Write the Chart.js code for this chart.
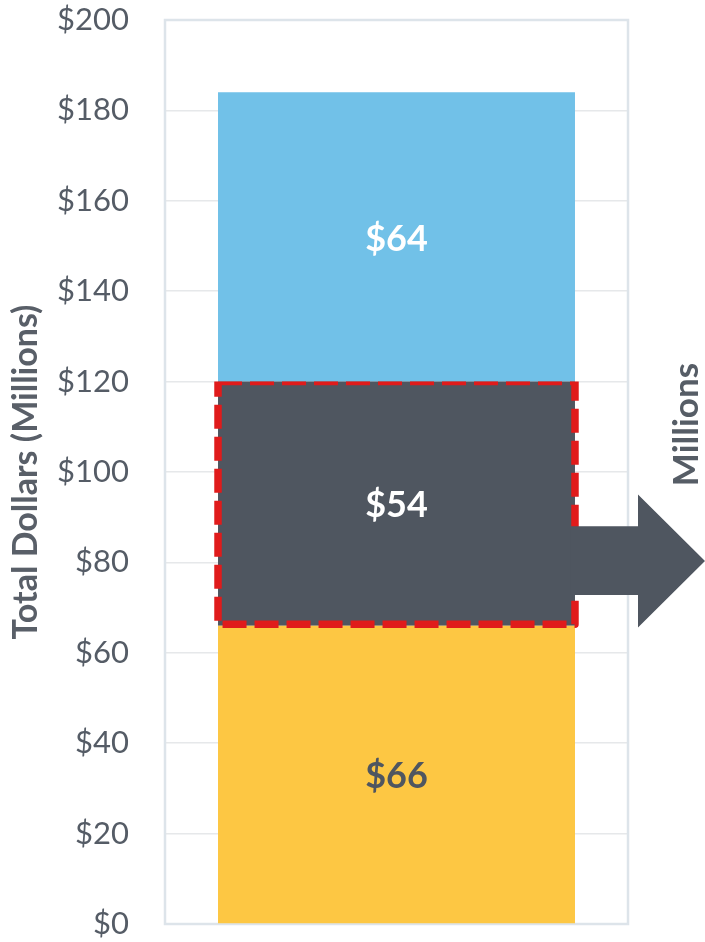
<!DOCTYPE html>
<html>
<head>
<meta charset="utf-8">
<script src="https://cdn.jsdelivr.net/npm/chart.js@4/dist/chart.umd.min.js"></script>
<style>
  html, body { margin: 0; padding: 0; background: #ffffff; }
  #wrap { width: 705px; height: 942px; }
</style>
</head>
<body>
<div id="wrap"><canvas id="c" width="705" height="942"></canvas></div>
<script>
// Single stacked column: three funding segments (millions of dollars)
const categories = [''];
const segmentNames = ['Base', 'Highlighted', 'Upper'];
const baseValues = [66];
const highlightedValues = [54];
const upperValues = [64];
const yMin = 0, yMax = 200, yStep = 20;

const colors = {
  base: '#fdc743',
  highlighted: '#4f5660',
  upper: '#71c1e8',
  text: '#555c66',
  grid: '#e6e8ea',
  frame: '#dde4ea',
  dash: '#e01b1b'
};
const fontFamily = 'Lato, "Open Sans", sans-serif';

// Light frame around the plotting area
const framePlugin = {
  id: 'frame',
  beforeDatasetsDraw(chart) {
    const { ctx, chartArea: a } = chart;
    ctx.save();
    ctx.strokeStyle = colors.frame;
    ctx.lineWidth = 2.5;
    ctx.strokeRect(a.left, a.top, a.right - a.left, a.bottom - a.top);
    ctx.restore();
  }
};

// Dashed outline around the highlighted segment plus the outgoing arrow
const highlightPlugin = {
  id: 'highlight',
  afterDatasetsDraw(chart) {
    const { ctx, chartArea: a } = chart;
    const y = chart.scales.y;
    const bar = chart.getDatasetMeta(1).data[0];
    const half = bar.width / 2;
    const left = bar.x - half, right = bar.x + half;
    const lowVal = baseValues[0];
    const highVal = baseValues[0] + highlightedValues[0];
    const yTop = y.getPixelForValue(highVal);
    const yBot = y.getPixelForValue(lowVal);

    ctx.save();
    ctx.beginPath();
    ctx.rect(0, yTop, chart.width, chart.height);
    ctx.clip();
    ctx.strokeStyle = colors.dash;
    ctx.lineWidth = 7.5;
    ctx.setLineDash([24, 8]);
    ctx.lineJoin = 'round';
    ctx.strokeRect(left, yTop, right - left, yBot - yTop - 1.5);
    ctx.restore();

    // Arrow pointing right out of the highlighted segment
    const shaftTop = y.getPixelForValue(88);
    const shaftBot = y.getPixelForValue(72.8);
    const headTop = y.getPixelForValue(95);
    const headBot = y.getPixelForValue(65.6);
    const tipY = (headTop + headBot) / 2;
    const headX = a.right + 10;
    const tipX = chart.width;
    ctx.save();
    ctx.fillStyle = colors.highlighted;
    ctx.beginPath();
    ctx.moveTo(right - 4, shaftTop);
    ctx.lineTo(headX, shaftTop);
    ctx.lineTo(headX, headTop);
    ctx.lineTo(tipX, tipY);
    ctx.lineTo(headX, headBot);
    ctx.lineTo(headX, shaftBot);
    ctx.lineTo(right - 4, shaftBot);
    ctx.closePath();
    ctx.fill();

    // Side caption beside the arrow
    ctx.translate(a.right + 59, y.getPixelForValue(110.5));
    ctx.rotate(-Math.PI / 2);
    ctx.fillStyle = '#565d66';
    ctx.font = 'bold 35px ' + fontFamily;
    ctx.textAlign = 'center';
    ctx.textBaseline = 'middle';
    ctx.fillText('Millions', 0, 0);
    ctx.restore();
  }
};

// Value labels centred in each segment
const valueLabelPlugin = {
  id: 'valueLabels',
  afterDraw(chart) {
    const { ctx } = chart;
    const labelColors = [colors.highlighted, '#ffffff', '#ffffff'];
    ctx.save();
    ctx.font = 'bold 36px ' + fontFamily;
    ctx.textAlign = 'center';
    ctx.textBaseline = 'middle';
    chart.data.datasets.forEach((ds, i) => {
      const el = chart.getDatasetMeta(i).data[0];
      const cy = (el.y + el.base) / 2 + 2;
      ctx.fillStyle = labelColors[i];
      ctx.fillText('$' + ds.data[0], el.x, cy);
    });
    ctx.restore();
  }
};

new Chart(document.getElementById('c'), {
  type: 'bar',
  data: {
    labels: categories,
    datasets: [
      { label: segmentNames[0], data: baseValues, backgroundColor: colors.base },
      { label: segmentNames[1], data: highlightedValues, backgroundColor: colors.highlighted },
      { label: segmentNames[2], data: upperValues, backgroundColor: colors.upper }
    ]
  },
  options: {
    responsive: false,
    animation: false,
    events: [],
    layout: { padding: { left: 0, right: 77, top: 20, bottom: 18 } },
    datasets: { bar: { barPercentage: 1, categoryPercentage: 0.771, borderWidth: 0 } },
    plugins: { legend: { display: false }, tooltip: { enabled: false }, title: { display: false } },
    scales: {
      x: { stacked: true, display: false },
      y: {
        stacked: true,
        min: yMin,
        max: yMax,
        ticks: {
          stepSize: yStep,
          padding: 36,
          color: colors.text,
          font: { family: fontFamily, size: 31 },
          callback: v => '$' + v
        },
        grid: { color: colors.grid, lineWidth: 1.5, drawTicks: false },
        border: { display: false },
        title: {
          display: true,
          text: 'Total Dollars (Millions)',
          color: '#595f68',
          font: { family: fontFamily, size: 34, weight: 'bold' },
          padding: { top: 6, bottom: 0 }
        },
        afterFit(scale) {
          scale.width = 165;
          scale.paddingTop = 0;
          scale.paddingBottom = 0;
        }
      }
    }
  },
  plugins: [framePlugin, highlightPlugin, valueLabelPlugin]
});
</script>
</body>
</html>
